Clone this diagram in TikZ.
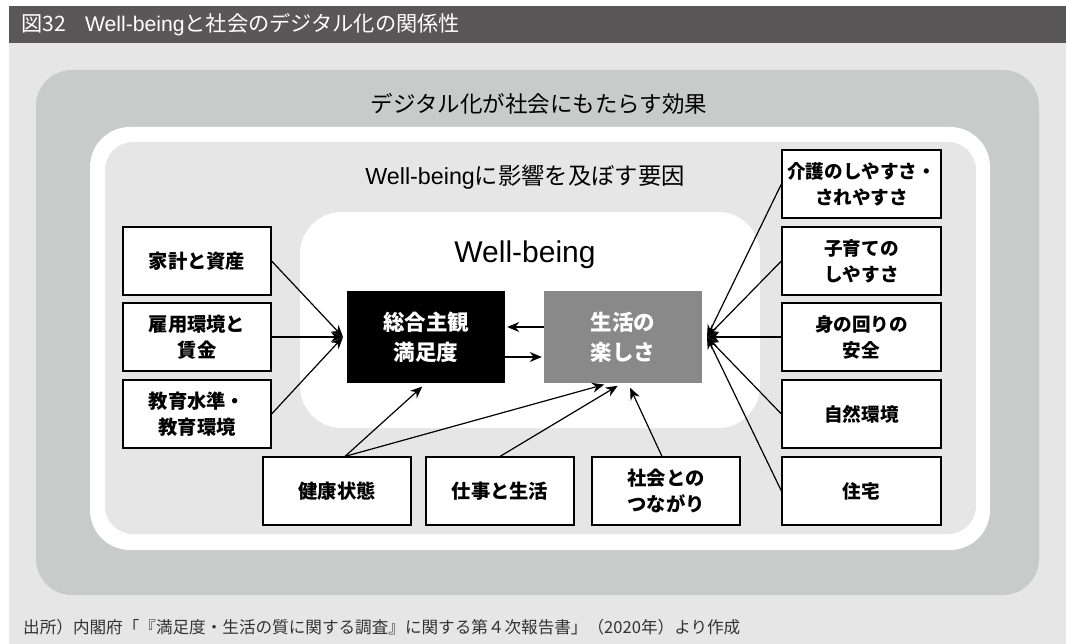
\documentclass[tikz,border=0pt]{standalone}
\usepackage{fontspec}
\setmainfont{Noto Sans CJK JP}
\newfontfamily\lat{Liberation Sans}
\usetikzlibrary{arrows.meta}
\definecolor{titlebar}{HTML}{595757}
\definecolor{panel}{HTML}{E6E6E6}
\definecolor{outerg}{HTML}{C9CACA}
\definecolor{midg}{HTML}{898989}
\definecolor{foot}{HTML}{333333}
\tikzset{
  box/.style={draw=black, line width=1.2pt, fill=white, minimum width=148pt, minimum height=68pt, align=center, inner sep=0pt, font=\fontsize{19.3}{26}\selectfont\bfseries},
  rbox/.style={box, minimum width=159pt, font=\fontsize{18.6}{26}\selectfont\bfseries},
  core/.style={minimum width=158pt, minimum height=92pt, align=center, inner sep=0pt, text=white, font=\fontsize{21.5}{30}\selectfont\bfseries},
  arr/.style={line width=1.2pt, -{Stealth[length=12pt,width=10pt]}},
}
\begin{document}
\begin{tikzpicture}[x=1pt,y=-1pt]
\useasboundingbox (0,0) rectangle (1066,644);
\fill[white] (0,0) rectangle (1066,644);
\fill[panel] (9,43) rectangle (1066,644);
\fill[titlebar] (9,6) rectangle (1066,43);
\node[anchor=base west, text=white, font=\fontsize{21.2}{21.2}\selectfont, inner sep=0pt] (title) at (21,32) {図32\hspace{0.9em}{\lat Well-being}と社会のデジタル化の関係性};
\fill[outerg, rounded corners=36pt] (36,70) rectangle (1039,595);
\fill[white, rounded corners=40pt] (90,127) rectangle (990,550);
\fill[panel, rounded corners=28pt] (105,142) rectangle (976,534);
\fill[white, rounded corners=42pt] (300,212) rectangle (760,428);

\node[font=\fontsize{22.5}{22.5}\selectfont] (h1) at (539,104) {デジタル化が社会にもたらす効果};
\node[anchor=base, font=\fontsize{23.3}{23.3}\selectfont] (h2) at (525,185) {{\lat Well-being}に影響を及ぼす要因};
\node[anchor=base, font=\fontsize{30}{30}\selectfont\lat] (wb) at (525,263) {Well-being};

\node[core, fill=black] (sat) at (426,337) {総合主観\\満足度};
\node[core, fill=midg] (fun) at (623,337) {生活の\\楽しさ};

\node[box] (L1) at (197,261) {家計と資産};
\node[box] (L2) at (197,337) {雇用環境と\\賃金};
\node[box] (L3) at (197,414) {教育水準・\\教育環境};

\node[rbox] (R1) at (861.5,184) {介護のしやすさ・\\されやすさ};
\node[rbox] (R2) at (861.5,261) {子育ての\\しやすさ};
\node[rbox] (R3) at (861.5,337) {身の回りの\\安全};
\node[rbox] (R4) at (861.5,414) {自然環境};
\node[rbox] (R5) at (861.5,491) {住宅};

\node[box] (B1) at (337,491) {健康状態};
\node[box] (B2) at (500,491) {仕事と生活};
\node[box] (B3) at (666,491) {社会との\\つながり};

\coordinate (lc) at (343,337);
\coordinate (rc) at (707,337);
\foreach \n in {L1,L2,L3} \draw[arr] (\n.east) -- (lc);
\foreach \n in {R1,R2,R3,R4,R5} \draw[arr] (\n.west) -- (rc);

\draw[arr, shorten >=2pt] ([yshift=10pt]fun.west) -- ([yshift=10pt]sat.east);
\draw[arr, shorten >=2pt] ([yshift=-20pt]sat.east) -- ([yshift=-20pt]fun.west);

\draw[arr, shorten >=5pt] ([xshift=8pt]B1.north) -- (sat.south);
\draw[arr, shorten >=5pt] ([xshift=8pt]B1.north) -- ([xshift=-14pt]fun.south);
\draw[arr, shorten >=5pt] (B2.north) -- ([xshift=-1pt]fun.south);
\draw[arr, shorten >=5pt] ([xshift=-4pt]B3.north) -- ([xshift=5pt]fun.south);

\node[anchor=west, text=foot, inner sep=0pt, font=\fontsize{16.6}{16.6}\selectfont] (src) at (23,627) {出所）内閣府「『満足度・生活の質に関する調査』に関する第４次報告書」（2020年）より作成};
\end{tikzpicture}
\end{document}
